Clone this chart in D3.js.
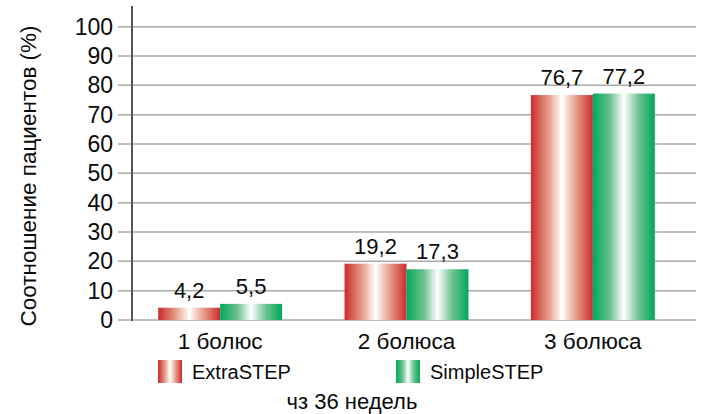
<!DOCTYPE html>
<html>
<head>
<meta charset="utf-8">
<script src="https://cdn.jsdelivr.net/npm/d3@7"></script>
<style>
  body { margin: 0; background: #fff; }
  text { font-family: "Liberation Sans", Arial, sans-serif; fill: #0a0a0a; }
</style>
</head>
<body>
<div id="chart"></div>
<script>
const categories = ["1 болюс", "2 болюса", "3 болюса"];
const seriesNames = ["ExtraSTEP", "SimpleSTEP"];
const extraValues = [4.2, 19.2, 76.7];
const simpleValues = [5.5, 17.3, 77.2];
const yTicks = [0, 10, 20, 30, 40, 50, 60, 70, 80, 90, 100];

const W = 702, H = 414;
const svg = d3.select("#chart").append("svg")
    .attr("width", W).attr("height", H);

// gradients
const defs = svg.append("defs");
function grad(id, dark, mid) {
  const g = defs.append("linearGradient").attr("id", id)
      .attr("x1", "0%").attr("x2", "100%").attr("y1", "0%").attr("y2", "0%");
  g.append("stop").attr("offset", "0%").attr("stop-color", dark);
  g.append("stop").attr("offset", "28%").attr("stop-color", mid);
  g.append("stop").attr("offset", "50%").attr("stop-color", "#ffffff");
  g.append("stop").attr("offset", "74%").attr("stop-color", mid);
  g.append("stop").attr("offset", "100%").attr("stop-color", dark);
}
grad("gRed", "#cc2a2c", "#e59a86");
grad("gGreen", "#00a85a", "#6cc28f");
const fills = ["url(#gRed)", "url(#gGreen)"];

const y = d3.scaleLinear().domain([0, 100]).range([320, 26.7]);
const x = d3.scaleBand().domain(categories).range([127, 686])
    .paddingInner(0.335).paddingOuter(0.1675);
const xs = d3.scaleBand().domain(seriesNames).range([0, x.bandwidth()]);

// grid lines
svg.append("g")
  .selectAll("line")
  .data(yTicks)
  .enter().append("line")
    .attr("x1", 118).attr("x2", 696)
    .attr("y1", d => y(d)).attr("y2", d => y(d))
    .attr("stroke", "#aaaaaa").attr("stroke-width", 1.5);

// y axis
const yAxis = svg.append("g")
    .attr("transform", "translate(132,0)")
    .call(d3.axisLeft(y).tickValues(yTicks).tickSize(0).tickPadding(19));
yAxis.select(".domain").remove();
yAxis.selectAll("text")
    .style("font-family", "Liberation Sans, Arial, sans-serif")
    .style("font-size", "23px").attr("fill", "#0a0a0a");
svg.append("line")
    .attr("x1", 132).attr("x2", 132).attr("y1", 6).attr("y2", 321)
    .attr("stroke", "#555").attr("stroke-width", 2);

// bars
const groups = svg.append("g")
  .selectAll("g")
  .data(categories)
  .enter().append("g")
    .attr("transform", d => `translate(${x(d)},0)`);

groups.selectAll("rect")
  .data((d, i) => [extraValues[i], simpleValues[i]])
  .enter().append("rect")
    .attr("x", (d, j) => xs(seriesNames[j]))
    .attr("y", d => y(d))
    .attr("width", xs.bandwidth())
    .attr("height", d => y(0) - y(d))
    .attr("fill", (d, j) => fills[j]);

groups.selectAll("text.val")
  .data((d, i) => [extraValues[i], simpleValues[i]])
  .enter().append("text")
    .attr("class", "val")
    .attr("x", (d, j) => xs(seriesNames[j]) + xs.bandwidth() / 2)
    .attr("y", d => y(d) - 10)
    .attr("text-anchor", "middle")
    .style("font-size", "22px")
    .text(d => String(d).replace(".", ","));

// x axis labels
svg.append("g")
  .selectAll("text")
  .data(categories)
  .enter().append("text")
    .attr("x", d => x(d) + x.bandwidth() / 2)
    .attr("y", 349)
    .attr("text-anchor", "middle")
    .style("font-size", "22.5px")
    .text(d => d);

// legend
const legendX = [158, 396];
const legend = svg.append("g")
  .selectAll("g")
  .data(seriesNames)
  .enter().append("g")
    .attr("transform", (d, i) => `translate(${legendX[i]},360)`);
legend.append("rect")
    .attr("width", 24).attr("height", 23)
    .attr("fill", (d, i) => fills[i]);
legend.append("text")
    .attr("x", 34).attr("y", 19)
    .style("font-size", "20px")
    .text(d => d);

// axis titles
svg.append("text")
    .attr("transform", "translate(36,176) rotate(-90)")
    .attr("text-anchor", "middle")
    .style("font-size", "22.5px")
    .text("Соотношение пациентов (%)");

svg.append("text")
    .attr("x", 352).attr("y", 409)
    .attr("text-anchor", "middle")
    .style("font-size", "22px")
    .text("чз 36 недель");
</script>
</body>
</html>
